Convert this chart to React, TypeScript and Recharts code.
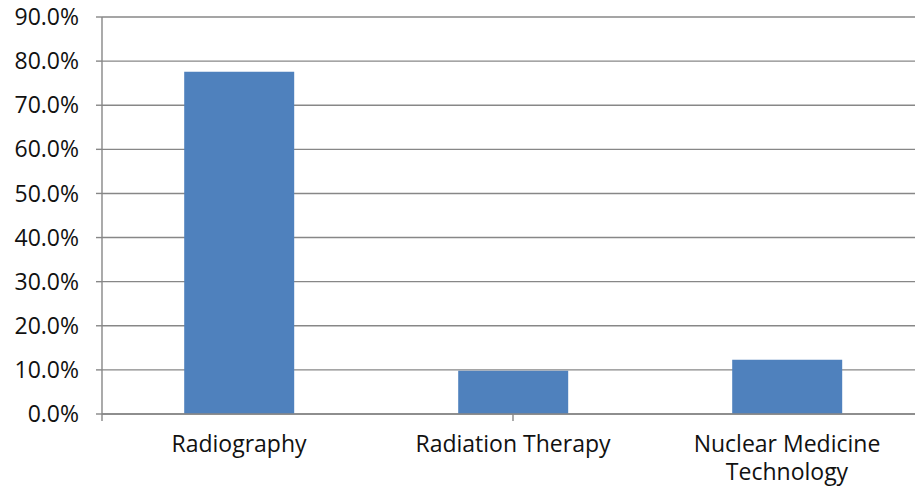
import React from 'react';
import { BarChart, Bar, XAxis, YAxis, CartesianGrid } from 'recharts';

const programs = ['Radiography', 'Radiation Therapy', 'Nuclear Medicine Technology'];
const shares = [0.776, 0.098, 0.123];
const yTicks = [0, 0.1, 0.2, 0.3, 0.4, 0.5, 0.6, 0.7, 0.8, 0.9];
const edgeTicks = [0, 1, 2, 3];

const data = programs.map((name, i) => ({ name, value: shares[i] }));

const GRID = '#878787';
const FONT = '"Open Sans", sans-serif';
const FONT_SIZE = 23;

// wrap on words, roughly 18 characters per line
const wrap = (label: string, max = 18) => {
  const lines: string[] = [];
  let cur = '';
  label.split(' ').forEach((w) => {
    const next = cur ? `${cur} ${w}` : w;
    if (next.length > max && cur) {
      lines.push(cur);
      cur = w;
    } else {
      cur = next;
    }
  });
  if (cur) lines.push(cur);
  return lines;
};

const CategoryTick = (props: any) => {
  const { x, y, payload } = props;
  const lines = wrap(String(payload.value));
  return (
    <text x={x} y={y} textAnchor="middle" fontSize={FONT_SIZE} fontFamily={FONT} fill="#111">
      {lines.map((line, i) => (
        <tspan key={i} x={x} dy={i === 0 ? '0.71em' : 28}>
          {line}
        </tspan>
      ))}
    </text>
  );
};

export default function App() {
  return (
    <div style={{ position: 'absolute', left: 0, top: 0, width: 915, height: 488, overflow: 'hidden', background: '#fff' }}>
      <BarChart
        width={924}
        height={488}
        data={data}
        margin={{ top: 17, right: 0, bottom: 0, left: 0 }}
        barCategoryGap="30%"
      >
        <CartesianGrid vertical={false} stroke={GRID} strokeWidth={1.4} />
        <XAxis
          xAxisId="a"
          type="number"
          domain={[0, 3]}
          ticks={edgeTicks}
          allowDataOverflow
          tick={() => <g />}
          tickSize={7}
          height={8}
          axisLine={{ stroke: GRID, strokeWidth: 1.4 }}
          tickLine={{ stroke: GRID, strokeWidth: 1.4 }}
        />
        <XAxis
          xAxisId="b"
          dataKey="name"
          height={66}
          axisLine={false}
          tickLine={false}
          tickSize={0}
          tickMargin={14}
          interval={0}
          tick={<CategoryTick />}
        />
        <YAxis
          domain={[0, 0.9]}
          ticks={yTicks}
          width={102}
          interval={0}
          tickSize={6}
          tickMargin={17}
          axisLine={{ stroke: GRID, strokeWidth: 1.4 }}
          tickLine={{ stroke: GRID, strokeWidth: 1.4 }}
          tickFormatter={(v: number) => `${(v * 100).toFixed(1)}%`}
          tick={{ fontSize: FONT_SIZE, fontFamily: FONT, fill: '#111' }}
        />
        <Bar xAxisId="b" dataKey="value" fill="#4f81bd" isAnimationActive={false} />
      </BarChart>
    </div>
  );
}
